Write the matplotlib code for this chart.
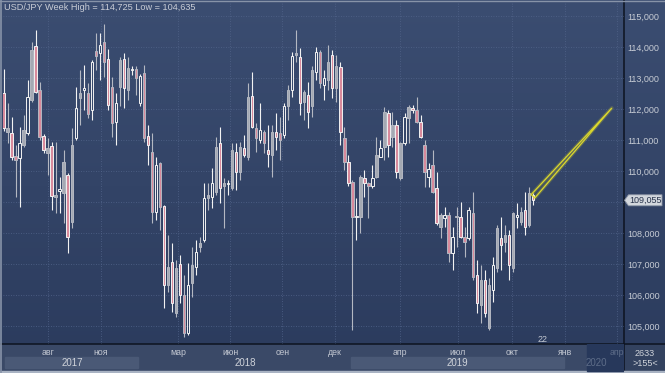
import numpy as np
import matplotlib
matplotlib.use('Agg')
import matplotlib.pyplot as plt
from matplotlib.patches import Rectangle, Polygon
from matplotlib.lines import Line2D
from matplotlib.colors import LinearSegmentedColormap

plt.rcParams['font.family'] = ['Liberation Sans', 'DejaVu Sans']

# weekly USD/JPY candles
opens = [112.5, 111.27, 111.24, 110.49, 110.41, 110.84, 111.22, 112.29, 114.03, 112.61,
         111.13, 110.57, 110.81, 109.15, 109.37, 109.28, 109.87, 108.37, 111.05, 112.34,
         112.61, 112.51, 111.97, 113.88, 113.80, 114.15, 113.60, 112.72, 111.59, 112.72,
         113.60, 112.61, 113.26, 113.28, 112.18, 113.15, 111.13, 110.62, 108.69, 110.27,
         108.87, 106.32, 107.07, 105.41, 106.99, 106.00, 104.76, 106.38, 106.91, 107.56,
         107.78, 109.12, 109.15, 109.33, 110.89, 109.50, 109.58, 109.44, 110.62, 109.98,
         110.73, 110.46, 112.42, 111.38, 111.00, 111.27, 110.68, 110.52, 111.27, 111.22,
         111.16, 112.10, 112.61, 113.74, 113.69, 112.24, 112.45, 112.08, 113.20, 113.85,
         112.77, 112.94, 113.74, 112.67, 113.34, 111.05, 110.30, 109.66, 108.50, 108.53,
         109.76, 109.60, 109.50, 109.82, 110.46, 110.78, 111.86, 111.10, 111.48, 109.76,
         110.89, 111.70, 112.02, 111.97, 111.59, 110.84, 109.82, 110.19, 109.44, 108.20,
         108.47, 108.58, 107.34, 108.50, 108.53, 107.88, 107.83, 108.66, 106.65, 105.67,
         106.48, 104.92, 106.16, 106.86, 107.83, 107.72, 107.94, 106.86, 108.53, 108.37,
         108.74, 108.26, 109.23]
highs = [113.3, 112.18, 111.75, 110.84, 111.43, 111.81, 112.94, 114.17, 114.55, 112.88,
         111.20, 111.05, 110.95, 110.95, 109.82, 110.68, 109.93, 111.38, 112.72, 113.26,
         113.42, 112.83, 113.58, 114.46, 114.44, 114.73, 113.93, 113.04, 112.51, 113.69,
         113.80, 113.69, 113.40, 113.39, 113.13, 113.42, 111.48, 111.22, 110.46, 110.30,
         108.90, 107.94, 107.67, 107.13, 107.29, 106.65, 107.02, 107.56, 107.78, 107.88,
         109.60, 109.60, 110.09, 111.11, 111.43, 109.76, 109.71, 110.89, 110.89, 110.95,
         111.16, 112.83, 113.20, 111.54, 112.18, 111.32, 111.48, 111.48, 111.86, 111.75,
         112.18, 112.77, 113.85, 114.55, 113.96, 112.61, 112.88, 113.37, 114.01, 113.90,
         113.26, 114.06, 113.90, 113.74, 113.53, 111.43, 110.52, 109.71, 109.12, 109.87,
         110.03, 109.66, 110.19, 111.11, 111.00, 112.07, 111.97, 111.91, 111.64, 110.94,
         111.86, 112.13, 112.13, 112.40, 111.80, 111.00, 110.25, 110.68, 109.98, 108.63,
         108.85, 108.69, 108.20, 108.85, 109.01, 108.20, 108.85, 109.33, 107.13, 106.97,
         106.80, 106.54, 107.24, 108.26, 108.53, 108.26, 108.10, 108.69, 108.96, 108.85,
         109.33, 109.49, 109.28]
lows = [111.3, 110.89, 110.36, 109.17, 108.85, 110.78, 111.16, 112.24, 112.51, 111.00,
        110.57, 109.87, 108.74, 108.63, 108.63, 108.31, 107.34, 108.15, 111.00, 111.48,
        111.97, 111.70, 111.65, 113.26, 112.94, 113.04, 111.97, 111.11, 110.84, 112.08,
        112.02, 112.29, 113.10, 112.45, 112.08, 110.95, 110.19, 108.31, 108.42, 108.10,
        105.57, 106.11, 105.46, 105.30, 105.73, 104.64, 104.70, 105.95, 106.64, 107.40,
        107.72, 108.74, 108.80, 109.23, 108.96, 108.15, 109.23, 109.39, 109.39, 109.71,
        110.46, 110.36, 111.38, 110.62, 110.89, 110.57, 110.14, 109.82, 110.68, 110.36,
        111.05, 111.65, 112.40, 113.53, 111.80, 111.65, 111.38, 111.75, 112.94, 112.67,
        112.29, 112.61, 112.34, 112.24, 110.84, 110.03, 109.50, 104.87, 107.77, 107.99,
        109.17, 108.47, 109.44, 109.76, 110.46, 110.35, 110.46, 110.78, 109.76, 109.71,
        110.84, 110.89, 111.86, 111.54, 111.05, 109.49, 109.49, 109.28, 108.26, 107.83,
        108.20, 107.07, 106.80, 107.56, 107.83, 107.24, 107.77, 106.48, 105.41, 105.09,
        105.30, 104.87, 105.78, 106.75, 106.80, 107.40, 106.48, 106.75, 108.15, 108.26,
        107.94, 108.20, 108.90]
closes = [111.4, 111.38, 110.46, 110.36, 110.89, 111.32, 112.40, 113.90, 112.56, 111.11,
          110.68, 110.73, 109.19, 109.23, 109.42, 110.29, 107.86, 110.84, 112.02, 112.53,
          112.69, 111.84, 113.53, 113.71, 114.07, 113.53, 112.13, 111.54, 112.18, 113.58,
          112.67, 113.31, 113.30, 112.99, 113.06, 111.05, 110.84, 108.69, 110.19, 108.83,
          106.32, 106.91, 105.73, 106.86, 106.00, 104.76, 106.32, 106.97, 107.40, 107.67,
          109.12, 109.23, 109.60, 110.78, 109.44, 109.60, 109.62, 110.68, 109.98, 110.78,
          110.52, 112.38, 111.43, 111.05, 111.32, 110.89, 110.55, 111.27, 111.11, 111.00,
          112.10, 112.61, 113.71, 113.80, 112.20, 112.56, 111.91, 113.26, 113.85, 112.83,
          112.99, 113.53, 112.67, 113.37, 111.27, 110.30, 109.60, 108.53, 108.55, 109.81,
          109.60, 109.50, 109.76, 110.52, 110.73, 111.91, 110.84, 111.48, 109.98, 110.89,
          111.75, 112.05, 111.97, 111.59, 111.11, 109.98, 110.08, 109.33, 108.31, 108.58,
          108.58, 107.34, 107.88, 108.55, 107.88, 107.72, 108.74, 106.59, 105.73, 106.48,
          105.41, 106.32, 106.97, 108.15, 107.61, 107.94, 106.97, 108.63, 108.58, 108.69,
          108.20, 109.28, 109.06]

title = 'USD/JPY Week High = 114,725 Low = 104,635'
last_price = 109.055
arrow_tip = (151.7, 112.03)
price_ticks = [105, 106, 107, 108, 109, 110, 111, 112, 113, 114, 115]
month_labels = ['авг', 'ноя', 'мар', 'июн', 'сен', 'дек', 'апр', 'июл', 'окт', 'янв', 'апр']
month_pos = [11.1, 24.3, 43.5, 56.5, 69.5, 82.7, 98.9, 113.3, 126.8, 140.0, 153.0]
year_labels = ['2017', '2018', '2019', '2020']
year_pos = [17.1, 60.2, 113.3, 147.8]
counter_text = '22'
footer_top = '2633'
footer_bottom = '>155<'

W, H = 665, 373
def fx(px):
    return px / W
def fy(py):
    return 1 - py / H

fig = plt.figure(figsize=(W / 100, H / 100), dpi=100)

# background gradient over the whole figure
bg = fig.add_axes([0, 0, 1, 1], zorder=0)
bg.set_axis_off()
bg.set_xlim(0, 1)
bg.set_ylim(0, 1)
cmap = LinearSegmentedColormap.from_list('bg', ['#3b4d71', '#2b3b5d'])
bg.imshow(np.linspace(0, 1, 256).reshape(-1, 1), aspect='auto', cmap=cmap,
          extent=[0, 1, 0, 1], origin='upper')
# bottom strip
bg.add_patch(Rectangle((0, 0), 1, fy(344), color='#3a4967', zorder=2))
bg.add_patch(Rectangle((fx(624), 0), 1 - fx(624), fy(344), color='#33425f', zorder=2))

# main price axes
x0, x1 = 2.5, 624
ax = fig.add_axes([fx(x0), fy(344), fx(x1) - fx(x0), fy(2) - fy(344)], zorder=3)
ax.patch.set_alpha(0)
n = len(opens)
xmin = -0.25
xmax = xmin + (x1 - x0) / 4.01
ax.set_xlim(xmin, xmax)
ax.set_ylim(104.42, 115.45)

for p in price_ticks:
    ax.axhline(p, color='#52648a', lw=0.6, ls=(0, (1, 2)), zorder=1)
for m in month_pos:
    ax.axvline(m, color='#52648a', lw=0.6, ls=(0, (1, 2)), zorder=1)

bw = 0.58
for i in range(n):
    o, h, l, c = opens[i], highs[i], lows[i], closes[i]
    top, bot = max(o, c), min(o, c)
    odd = i % 2 == 1
    edge = '#b4b8c2' if odd else '#f2f2f2'
    ax.vlines(i, top, h, color=edge, lw=0.8, zorder=4)
    ax.vlines(i, l, bot, color=edge, lw=0.8, zorder=4)
    if c < o:
        face = '#d88a9c'
    else:
        face = '#a4a9b3' if odd else 'none'
    ax.add_patch(Rectangle((i - bw / 2, bot), bw, max(top - bot, 0.04),
                           facecolor=face, edgecolor=edge, lw=0.7, zorder=5))

# yellow arrow from the last candle
sx, sy = n - 1, closes[-1]
base_a = (sx + 0.5, sy + 0.07)
base_b = (sx - 0.4, sy + 0.18)
ax.plot([base_a[0], arrow_tip[0], base_b[0]], [base_a[1], arrow_tip[1], base_b[1]],
        color='#d6d22a', lw=2.6, alpha=0.25, zorder=6, solid_capstyle='round')
ax.add_patch(Polygon([base_a, arrow_tip, base_b], closed=True, fill=False,
                     edgecolor='#dcd82c', lw=0.9, zorder=7))

ax.text(n + 0.2, 104.55, counter_text, color='#c3c8d2', fontsize=6.5,
        ha='left', va='center', zorder=6)

ax.set_xticks([])
ax.yaxis.tick_right()
ax.set_yticks(price_ticks)
# the current-price tag sits where the nearest label would be
ax.set_yticklabels(['' if abs(p - last_price) < 0.5 else f'{p:.3f}'.replace('.', ',')
                    for p in price_ticks])
ax.tick_params(axis='y', length=0, pad=2.5, labelsize=6.5, labelcolor='#c6cbd4')
for s in ax.spines.values():
    s.set_visible(False)

# current price tag
fig.canvas.draw()
ty = ax.transData.transform((0, last_price))[1]
tag = [(fx(624.5), ty / H), (fx(628.5), (ty + 5.5) / H), (fx(662), (ty + 5.5) / H),
       (fx(662), (ty - 5.5) / H), (fx(628.5), (ty - 5.5) / H)]
bg.add_patch(Polygon(tag, closed=True, facecolor='#d3d7dd', edgecolor='#8d96a6',
                     lw=0.6, zorder=5))
fig.text(fx(645.5), ty / H, f'{last_price:.3f}'.replace('.', ','), color='#27324a',
         fontsize=6.5, ha='center', va='center', zorder=6)

# time axis strip
bax = fig.add_axes([fx(x0), 0, fx(x1) - fx(x0), fy(344)], zorder=3)
bax.patch.set_alpha(0)
bax.set_xlim(xmin, xmax)
bax.set_ylim(0, 1)
bax.set_axis_off()
band_y0, band_h = 0.17, 0.38
bax.add_patch(Rectangle((0.4, band_y0), 33.1, band_h, color='#4a5976', zorder=1))
bax.add_patch(Rectangle((86.7, band_y0), 53.1, band_h, color='#4a5976', zorder=1))
bax.add_patch(Rectangle((145.5, 0.08), xmax - 145.5, 0.92, color='#27385b', zorder=1))
for lbl, pos in zip(month_labels, month_pos):
    faded = pos > 145.5
    bax.text(pos, 0.72, lbl, color='#5d6c88' if faded else '#c3c8d2', fontsize=6.3,
             ha='center', va='center', zorder=3)
for lbl, pos in zip(year_labels, year_pos):
    faded = pos > 145.5
    bax.text(pos, 0.35, lbl, color='#5d6c88' if faded else '#cfd3da', fontsize=7,
             ha='center', va='center', zorder=3)

fig.text(fx(645), fy(353), footer_top, color='#cfd3da', fontsize=6.5,
         ha='center', va='center', zorder=6)
fig.text(fx(645), fy(363.5), footer_bottom, color='#cfd3da', fontsize=6.5,
         ha='center', va='center', zorder=6)

# title
fig.text(fx(4), fy(7.5), title, color='#c9cdd6', fontsize=6.6, ha='left',
         va='center', zorder=6)

# separators and frame
bg.add_line(Line2D([0, 1], [fy(344), fy(344)], color='#0d1320', lw=1.1, zorder=4))
bg.add_line(Line2D([fx(624), fx(624)], [fy(370), 1], color='#0d1320', lw=1.1, zorder=4))
bg.add_patch(Rectangle((0, 0), 1, fy(370.5), color='#a9b3c3', zorder=4))
bg.add_line(Line2D([fx(0.8), fx(0.8)], [0, 1], color='#8793a8', lw=1.2, zorder=4))
bg.add_line(Line2D([0, 1], [fy(0.6), fy(0.6)], color='#8793a8', lw=1.0, zorder=4))

fig.savefig('out.png', dpi=100, facecolor=fig.get_facecolor())
